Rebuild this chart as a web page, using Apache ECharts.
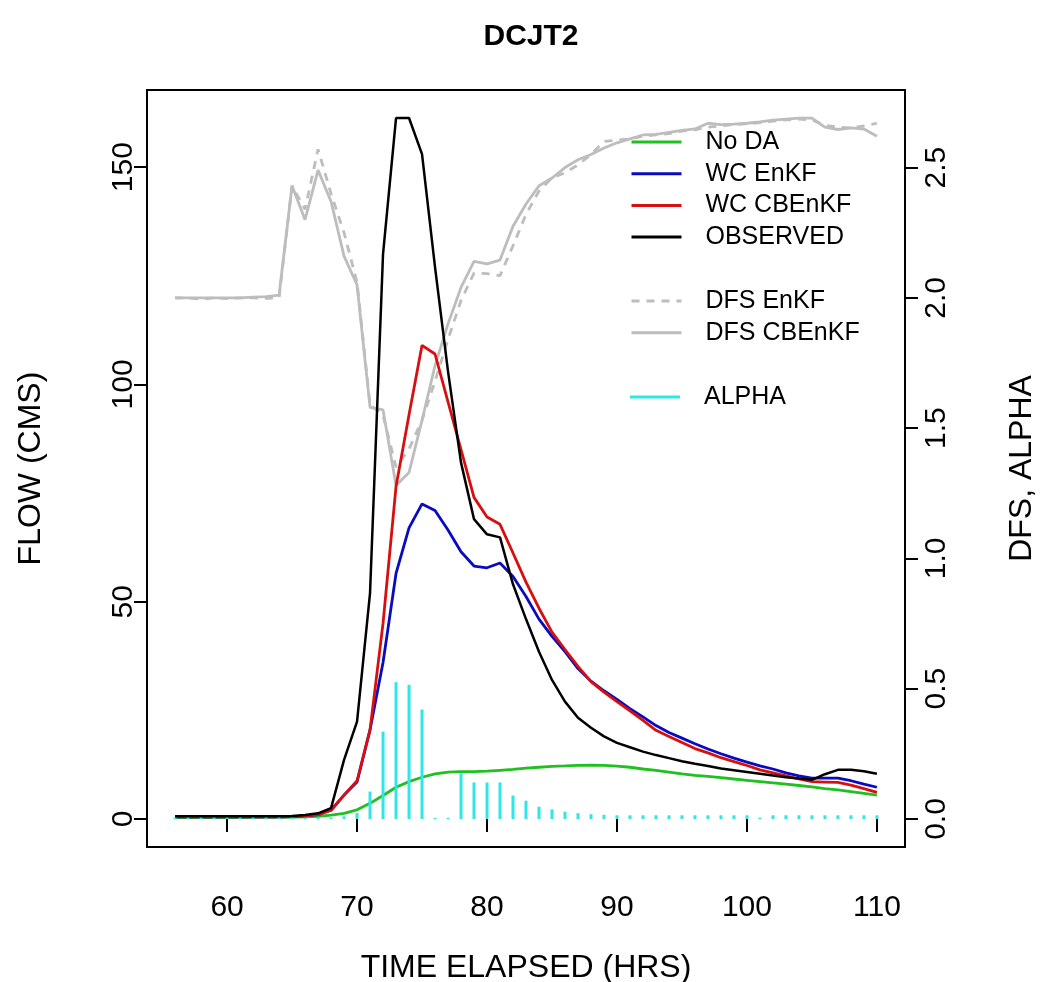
<!DOCTYPE html>
<html><head><meta charset="utf-8">
<script src="https://cdn.jsdelivr.net/npm/echarts@6/dist/echarts.min.js"></script>
<style>html,body{margin:0;padding:0;background:#fff;overflow:hidden}#c{width:1041px;height:982px}</style>
</head><body><div id="c"></div>
<script>
const hours = [56,57,58,59,60,61,62,63,64,65,66,67,68,69,70,71,72,73,74,75,76,77,78,79,80,81,82,83,84,85,86,87,88,89,90,91,92,93,94,95,96,97,98,99,100,101,102,103,104,105,106,107,108,109,110];

const noDA = [0.3,0.3,0.3,0.3,0.3,0.3,0.35,0.35,0.4,0.45,0.5,0.6,0.9,1.3,2.1,3.6,5.4,7.3,8.6,9.6,10.4,10.8,10.9,10.9,11.0,11.2,11.4,11.7,11.9,12.1,12.2,12.35,12.4,12.35,12.15,11.9,11.5,11.2,10.8,10.4,10.05,9.8,9.5,9.2,8.9,8.6,8.3,8.0,7.7,7.4,7.0,6.7,6.3,5.9,5.5];

const wcEnKF = [0.5,0.5,0.5,0.5,0.5,0.5,0.5,0.5,0.5,0.55,0.7,1.0,2.0,5.5,8.5,20.5,36,56.5,67,72.5,71,66.5,61.5,58.2,57.8,58.9,55.8,51.2,46,42,38.5,34.6,31.7,29.5,27.5,25.4,23.5,21.5,19.9,18.6,17.3,16.1,15.0,14.0,13.1,12.2,11.5,10.6,9.9,9.4,9.4,9.4,8.8,8.0,7.3];

const wcCBEnKF = [0.5,0.5,0.5,0.5,0.5,0.5,0.5,0.5,0.5,0.55,0.7,1.0,2.0,5.5,8.8,20.5,45,76.5,93,109,107,96,85,74,69.5,67.8,61.2,54.5,48.5,43,39,35.1,31.6,29.2,27.0,24.9,22.7,20.4,19.0,17.6,16.2,15.2,14.1,13.2,12.3,11.3,10.6,9.9,9.2,8.6,8.5,8.4,7.8,7.0,6.1];

const observed = [0.6,0.6,0.6,0.6,0.6,0.6,0.6,0.6,0.6,0.7,0.9,1.3,2.5,13.6,22.4,52,130,161.3,161.3,153,127,103,82,69,65.5,64.8,54,46,38.5,32,27,23.3,21,19,17.5,16.5,15.5,14.7,14,13.3,12.7,12.2,11.6,11.2,10.8,10.4,10.0,9.6,9.3,9.0,10.3,11.3,11.3,11.0,10.4];

const dfsEnKF = [2.0,2.0,1.995,2.0,1.997,2.0,2.0,1.998,2.0,2.43,2.34,2.57,2.40,2.25,2.06,1.59,1.55,1.35,1.42,1.53,1.68,1.84,1.99,2.095,2.093,2.085,2.2,2.32,2.41,2.46,2.48,2.51,2.55,2.60,2.605,2.61,2.62,2.625,2.63,2.64,2.645,2.655,2.66,2.665,2.668,2.672,2.678,2.683,2.686,2.683,2.662,2.655,2.652,2.66,2.67];

const dfsCBEnKF = [2.0,2.0,2.0,2.0,2.0,2.0,2.003,2.005,2.01,2.43,2.30,2.49,2.37,2.16,2.05,1.58,1.57,1.28,1.33,1.53,1.74,1.90,2.04,2.14,2.13,2.145,2.275,2.36,2.43,2.46,2.50,2.53,2.55,2.575,2.595,2.61,2.625,2.627,2.635,2.643,2.648,2.67,2.665,2.667,2.67,2.675,2.682,2.686,2.69,2.69,2.655,2.646,2.652,2.648,2.62];

const alpha = [0.005,0.005,0.005,0.005,0.005,0.005,0.005,0.005,0.005,0.005,0.005,0.005,0.006,0.01,0.023,0.105,0.335,0.525,0.515,0.42,0.004,0.004,0.175,0.14,0.14,0.14,0.09,0.07,0.047,0.037,0.028,0.022,0.018,0.016,0.014,0.014,0.014,0.014,0.014,0.014,0.014,0.014,0.014,0.014,0.014,0.005,0.014,0.014,0.014,0.014,0.014,0.014,0.014,0.014,0.014];

const xTicks = [60,70,80,90,100,110];
const leftTicks = [0,50,100,150];
const rightTicks = [0,0.5,1.0,1.5,2.0,2.5];

const FONT = 'Liberation Sans, Arial, Helvetica, sans-serif';
const pair = arr => hours.map((h,i)=>[h,arr[i]]);

const chart = echarts.init(document.getElementById('c'), null, {renderer:'canvas'});
const legendText = {fontSize:25, lineHeight:26, color:'#000', fontFamily:FONT, padding:[0,0,0,19]};
const legendCommon = {orient:'vertical', left:630, itemWidth:50, itemHeight:14, itemGap:5.7, padding:0,
  textStyle:legendText, selectedMode:false, itemStyle:{opacity:0}, lineStyle:{width:3}};
chart.setOption({
  animation:false,
  backgroundColor:'#fff',
  title:{text:'DCJT2', left:526, top:17, textAlign:'center',
    textStyle:{fontSize:30, fontWeight:'bold', color:'#000', fontFamily:FONT}},
  grid:{left:147, right:136, top:90, bottom:135, show:true, borderColor:'#000', borderWidth:2,
    backgroundColor:'transparent', containLabel:false, outerBoundsMode:'none'},
  legend:[
    Object.assign({data:['No DA','WC EnKF','WC CBEnKF','OBSERVED'], top:129}, legendCommon),
    Object.assign({data:['DFS EnKF','DFS CBEnKF'], top:288}, legendCommon),
    {data:['ALPHA'], orient:'vertical', left:630, top:384, itemWidth:50, itemHeight:3, icon:'rect', padding:0,
      textStyle:Object.assign({}, legendText), selectedMode:false}
  ],
  xAxis:{type:'value', min:53.84, max:112.16, position:'bottom',
    name:'TIME ELAPSED (HRS)', nameLocation:'middle', nameGap:105,
    nameTextStyle:{fontSize:32, color:'#000', fontFamily:FONT},
    axisLine:{show:false},
    axisTick:{show:true, inside:false, length:13, customValues:xTicks, lineStyle:{color:'#000', width:2}},
    axisLabel:{customValues:xTicks, fontSize:30, color:'#000', fontFamily:FONT, margin:46},
    splitLine:{show:false}},
  yAxis:[
    {type:'value', min:-6.45, max:167.75, position:'left',
      name:'FLOW (CMS)', nameLocation:'middle', nameGap:100,
      nameTextStyle:{fontSize:32, color:'#000', fontFamily:FONT},
      axisLine:{show:false},
      axisTick:{show:true, inside:false, length:13, customValues:leftTicks, lineStyle:{color:'#000', width:2}},
      axisLabel:{customValues:leftTicks, rotate:90, fontSize:30, color:'#000', fontFamily:FONT, margin:8},
      splitLine:{show:false}},
    {type:'value', min:-0.1076, max:2.7976, position:'right',
      name:'DFS, ALPHA', nameLocation:'middle', nameGap:101, nameRotate:90,
      nameTextStyle:{fontSize:32, color:'#000', fontFamily:FONT},
      axisLine:{show:false},
      axisTick:{show:true, inside:false, length:13, customValues:rightTicks, lineStyle:{color:'#000', width:2}},
      axisLabel:{customValues:rightTicks, rotate:90, fontSize:30, color:'#000', fontFamily:FONT, margin:17,
        formatter:v=>Number(v).toFixed(1)},
      splitLine:{show:false}}
  ],
  series:[
    {name:'No DA', type:'line', yAxisIndex:0, data:pair(noDA), symbol:'none', lineStyle:{color:'#1fc01f', width:2.8}, itemStyle:{color:'#1fc01f'}, z:3},
    {name:'WC EnKF', type:'line', yAxisIndex:0, data:pair(wcEnKF), symbol:'none', lineStyle:{color:'#0a0ac0', width:2.8}, itemStyle:{color:'#0a0ac0'}, z:3},
    {name:'WC CBEnKF', type:'line', yAxisIndex:0, data:pair(wcCBEnKF), symbol:'none', lineStyle:{color:'#d80f0f', width:2.8}, itemStyle:{color:'#d80f0f'}, z:3},
    {name:'OBSERVED', type:'line', yAxisIndex:0, data:pair(observed), symbol:'none', lineStyle:{color:'#000', width:2.5}, itemStyle:{color:'#000'}, z:3},
    {name:'DFS EnKF', type:'line', yAxisIndex:1, data:pair(dfsEnKF), symbol:'none', lineStyle:{color:'#bdbdbd', width:2.8, type:[8,7]}, itemStyle:{color:'#bdbdbd'}, z:2},
    {name:'DFS CBEnKF', type:'line', yAxisIndex:1, data:pair(dfsCBEnKF), symbol:'none', lineStyle:{color:'#bdbdbd', width:2.8}, itemStyle:{color:'#bdbdbd'}, z:2},
    {name:'ALPHA', type:'bar', yAxisIndex:1, data:pair(alpha), barWidth:3, itemStyle:{color:'#2ee6e6'}, z:4}
  ]
});
</script></body></html>
